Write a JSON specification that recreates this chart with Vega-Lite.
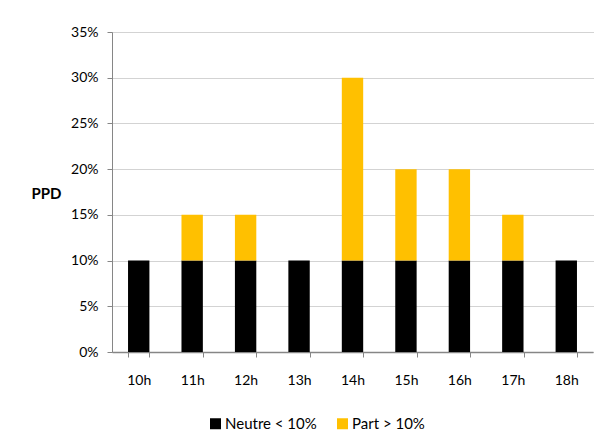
{
  "$schema": "https://vega.github.io/schema/vega-lite/v6.json",
  "width": 481,
  "height": 320,
  "autosize": {"type": "none"},
  "padding": {"left": 112, "top": 32, "right": 7, "bottom": 96},
  "background": "white",
  "config": {
    "view": {"stroke": null},
    "font": "Lato",
    "axis": {"labelFont": "Lato", "labelFontSize": 14, "labelColor": "#000000", "domainColor": "#868686", "tickColor": "#868686", "tickSize": 5},
    "legend": {"labelFont": "Lato", "labelFontSize": 15, "labelColor": "#000000"}
  },
  "data": {
    "values": [
      {"heure": "10h", "serie": "Neutre < 10%", "ordre": 0, "valeur": 0.10},
      {"heure": "10h", "serie": "Part > 10%", "ordre": 1, "valeur": 0.0},
      {"heure": "11h", "serie": "Neutre < 10%", "ordre": 0, "valeur": 0.10},
      {"heure": "11h", "serie": "Part > 10%", "ordre": 1, "valeur": 0.05},
      {"heure": "12h", "serie": "Neutre < 10%", "ordre": 0, "valeur": 0.10},
      {"heure": "12h", "serie": "Part > 10%", "ordre": 1, "valeur": 0.05},
      {"heure": "13h", "serie": "Neutre < 10%", "ordre": 0, "valeur": 0.10},
      {"heure": "13h", "serie": "Part > 10%", "ordre": 1, "valeur": 0.0},
      {"heure": "14h", "serie": "Neutre < 10%", "ordre": 0, "valeur": 0.10},
      {"heure": "14h", "serie": "Part > 10%", "ordre": 1, "valeur": 0.20},
      {"heure": "15h", "serie": "Neutre < 10%", "ordre": 0, "valeur": 0.10},
      {"heure": "15h", "serie": "Part > 10%", "ordre": 1, "valeur": 0.10},
      {"heure": "16h", "serie": "Neutre < 10%", "ordre": 0, "valeur": 0.10},
      {"heure": "16h", "serie": "Part > 10%", "ordre": 1, "valeur": 0.10},
      {"heure": "17h", "serie": "Neutre < 10%", "ordre": 0, "valeur": 0.10},
      {"heure": "17h", "serie": "Part > 10%", "ordre": 1, "valeur": 0.05},
      {"heure": "18h", "serie": "Neutre < 10%", "ordre": 0, "valeur": 0.10},
      {"heure": "18h", "serie": "Part > 10%", "ordre": 1, "valeur": 0.0}
    ]
  },
  "mark": {"type": "bar"},
  "encoding": {
    "x": {
      "field": "heure", "type": "nominal",
      "scale": {"paddingInner": 0.6, "paddingOuter": 0.3},
      "axis": {"title": null, "labelAngle": 0, "tickBand": "extent", "labelPadding": 16, "domainWidth": 1.5}
    },
    "y": {
      "field": "valeur", "type": "quantitative", "stack": "zero",
      "scale": {"domain": [0, 0.35], "nice": false},
      "axis": {
        "format": ".0%", "values": [0, 0.05, 0.1, 0.15, 0.2, 0.25, 0.3, 0.35],
        "title": "PPD", "titleAngle": 0, "titleFontSize": 15, "titleFontWeight": "bold", "titleFont": "Lato",
        "titleX": -66, "titleY": 166, "titleAlign": "center", "titleBaseline": "alphabetic",
        "labelPadding": 9,
        "grid": true, "gridColor": "#a6a6a6", "gridDash": [1, 1], "gridWidth": 1
      }
    },
    "color": {
      "field": "serie", "type": "nominal",
      "scale": {"domain": ["Neutre < 10%", "Part > 10%"], "range": ["#000000", "#FFC000"]},
      "legend": {
        "title": null, "orient": "none", "direction": "horizontal",
        "legendX": 96, "legendY": 384,
        "symbolType": "square", "symbolSize": 121, "symbolStrokeWidth": 0, "symbolOpacity": 1,
        "labelOffset": 2, "columnPadding": 18
      }
    },
    "order": {"field": "ordre", "type": "quantitative"}
  }
}
